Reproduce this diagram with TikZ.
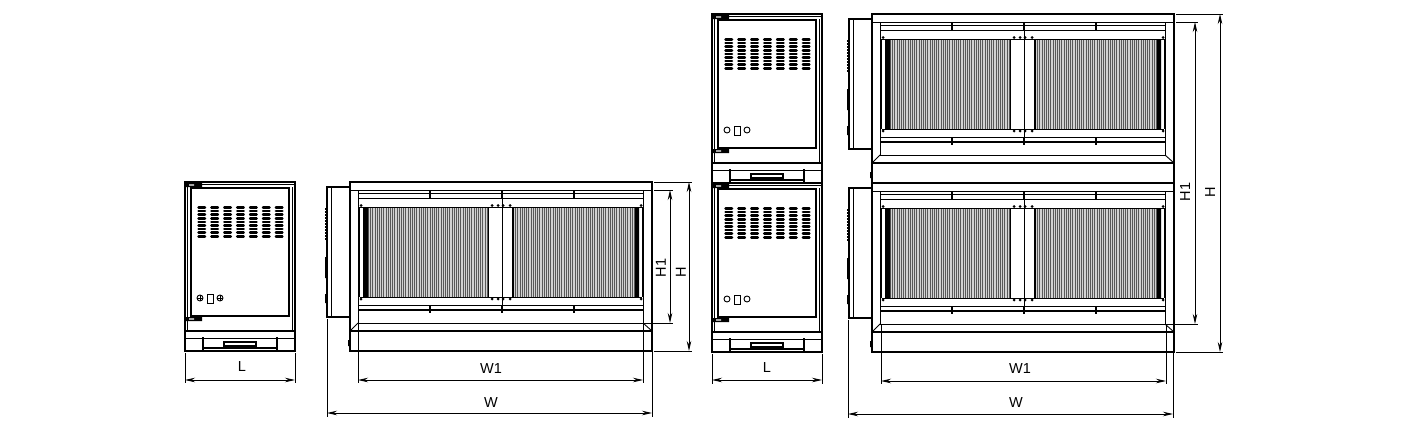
\documentclass[tikz,border=0pt]{standalone}
\usepackage{fontspec}
\setmainfont{Liberation Sans}
\usetikzlibrary{arrows.meta, positioning, calc}
\tikzset{
    heavy/.style={line width=1.7pt, black},
    light/.style={line width=0.9pt, black},
    fine/.style={line width=0.85pt, black},
    louvre/.style={line width=2.5pt, line cap=round, black},
    stud/.style={fill=black, draw=none},
    dimarrow/.style={{Stealth[length=10pt,width=4.5pt]}-{Stealth[length=10pt,width=4.5pt]}, fine},
    extline/.style={fine},
    dimlabel/.style={font=\fontsize{14.5}{15}\selectfont, inner sep=0pt}
}
% front view, origin at the top left corner
\newcommand{\frontunit}[2]{%
    \begin{scope}[shift={(#1,#2)}]
        \draw[heavy] (0,0) rectangle (110,169);
        \draw[light] (2.5,5) -- (2.5,149) (107.5,5) -- (107.5,149) (17,2.5) -- (110,2.5);
        \draw[heavy] (6,6) rectangle (104,134);
        \fill[black] (1,1) rectangle (17,5) (1,135) rectangle (17,139);
        \fill[white] (4,2.3) rectangle (9,3.7) (4,136.3) rectangle (9,137.7);
        \foreach \col in {0,...,6}
            \foreach \row in {0,...,8}
                \draw[louvre] ({13.5+\col*12.9},{25.5+\row*3.6}) -- ({20+\col*12.9},{25.5+\row*3.6});
        \draw[light] (15,116) circle (3) (35,116) circle (3);
        \draw[light] (22,112) rectangle (28,121);
        \draw[heavy] (0,149) -- (110,149);
        \draw[light] (0,156) -- (110,156);
        \draw[heavy] (18,155) -- (18,168) (92,155) -- (92,168) (18,166) -- (92,166);
        \draw[heavy] (39,160) rectangle (71,164);
    \end{scope}}
% long view, origin at the top left corner
\newcommand{\longunit}[2]{%
    \begin{scope}[shift={(#1,#2)}]
        \draw[heavy] (0,5) -- (-23,5) -- (-23,135) -- (0,135);
        \draw[light] (-19,5) -- (-19,135);
        \foreach \py in {26,29,...,56}
            \fill[black] (-25,\py) rectangle (-23.5,\py+1.6);
        \fill[black] (-25,75) rectangle (-23.5,96) (-25,112) rectangle (-23.5,121) (-1.8,158) rectangle (0,164);
        \draw[heavy] (0,0) rectangle (302,169);
        \draw[heavy] (0,149) -- (302,149);
        \draw[light] (8,8) -- (8,141) (293,8) -- (293,141);
        \draw[light] (0,8) -- (302,8) (8,16) -- (293,16) (8,123) -- (293,123) (8,141) -- (293,141);
        \draw[heavy] (8,11.5) -- (293,11.5) (8,128) -- (293,128);
        \draw[light] (0,149) -- (8,141) (302,149) -- (293,141);
        \fill[gray!35] (18,25) rectangle (138,115) (163,25) rectangle (285,115);
        \foreach \bar in {0,...,54}
            \draw[line width=0.9pt, black!65] ({18.5+\bar*2.2},25) -- ({18.5+\bar*2.2},115);
        \foreach \bar in {0,...,55}
            \draw[line width=0.9pt, black!65] ({163.5+\bar*2.2},25) -- ({163.5+\bar*2.2},115);
        \draw[light] (9.5,25) -- (292,25) (9.5,115) -- (292,115) (9.5,25) -- (9.5,115) (292,25) -- (292,115);
        \fill[black] (13,25) rectangle (18,115) (285,25) rectangle (289,115);
        \draw[heavy] (138.5,25) -- (138.5,115) (163,25) -- (163,115);
        \draw[light] (152,8) -- (152,131);
        \foreach \px in {80,152,224}
            \draw[heavy] (\px,8) -- (\px,16) (\px,123) -- (\px,131);
        \foreach \px in {11,142,148,153,160,291} {
            \fill[stud] (\px,23.5) circle (1.5);
            \fill[stud] (\px,117) circle (1.5);
        }
    \end{scope}}
\begin{document}
\begin{tikzpicture}[x=1pt, y=-1pt]
    \useasboundingbox[fill=white] (0,0) rectangle (1408,434);

    \frontunit{185}{182}
    \draw[light] (197,298) -- (203,298) (200,295) -- (200,301) (217,298) -- (223,298) (220,295) -- (220,301);
    \longunit{350}{182}

    \frontunit{712}{14}
    \frontunit{712}{183}
    \longunit{872}{14}
    \longunit{872}{183}

    % single unit dimensions
    \coordinate (sLa) at (185,380);
    \coordinate (sLb) at (295,380);
    \coordinate (sWia) at (358,380);
    \coordinate (sWib) at (643,380);
    \coordinate (sWa) at (327,413);
    \coordinate (sWb) at (652,413);
    \coordinate (sHia) at (670,190);
    \coordinate (sHib) at (670,323);
    \coordinate (sHa) at (689,182);
    \coordinate (sHb) at (689,351);

    \draw[dimarrow] (sLa) -- (sLb);
    \draw[dimarrow] (sWia) -- (sWib);
    \draw[dimarrow] (sWa) -- (sWb);
    \draw[dimarrow] (sHia) -- (sHib);
    \draw[dimarrow] (sHa) -- (sHb);
    \draw[extline] (185,353) -- (185,383) (295,353) -- (295,383);
    \draw[extline] (358,323) -- (358,383) (643,323) -- (643,383);
    \draw[extline] (327,319) -- (327,417) (652,352) -- (652,417);
    \draw[extline] (654,190) -- (673,190) (643,323) -- (673,323);
    \draw[extline] (654,182) -- (692,182) (654,351) -- (692,351);

    \node[dimlabel] (sL) at (242,367) {L};
    \node[dimlabel] (sWi) at (491,369) {W1};
    \node[dimlabel] (sW) at (491,403) {W};
    \node[dimlabel, rotate=90] (sHi) at (661,268) {H1};
    \node[dimlabel, rotate=90] (sH) at (681,272) {H};

    % stacked unit dimensions
    \coordinate (dLa) at (712,380);
    \coordinate (dLb) at (822,380);
    \coordinate (dWia) at (881,381);
    \coordinate (dWib) at (1166,381);
    \coordinate (dWa) at (848,414);
    \coordinate (dWb) at (1173,414);
    \coordinate (dHia) at (1195,22);
    \coordinate (dHib) at (1195,324);
    \coordinate (dHa) at (1220,14);
    \coordinate (dHb) at (1220,352);

    \draw[dimarrow] (dLa) -- (dLb);
    \draw[dimarrow] (dWia) -- (dWib);
    \draw[dimarrow] (dWa) -- (dWb);
    \draw[dimarrow] (dHia) -- (dHib);
    \draw[dimarrow] (dHa) -- (dHb);
    \draw[extline] (712,354) -- (712,384) (822,354) -- (822,384);
    \draw[extline] (881,324) -- (881,384) (1166,324) -- (1166,384);
    \draw[extline] (848,320) -- (848,418) (1173,353) -- (1173,418);
    \draw[extline] (1176,22) -- (1198,22) (1166,324) -- (1198,324);
    \draw[extline] (1176,14) -- (1223,14) (1176,352) -- (1223,352);

    \node[dimlabel] (dL) at (767,368) {L};
    \node[dimlabel] (dWi) at (1020,369) {W1};
    \node[dimlabel] (dW) at (1016,403) {W};
    \node[dimlabel, rotate=90] (dHi) at (1185,192) {H1};
    \node[dimlabel, rotate=90] (dH) at (1210,192) {H};
\end{tikzpicture}
\end{document}
